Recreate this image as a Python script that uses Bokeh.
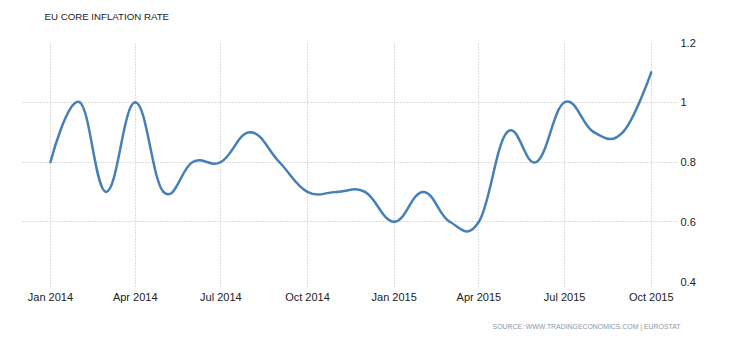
import pandas as pd
from bokeh.plotting import figure
from bokeh.models import ColumnDataSource, FixedTicker, CustomJSTickFormatter, Range1d, Title
from bokeh.embed import file_html
from bokeh.resources import INLINE

# ---- data ----
months = ["2014-01", "2014-02", "2014-03", "2014-04", "2014-05", "2014-06",
          "2014-07", "2014-08", "2014-09", "2014-10", "2014-11", "2014-12",
          "2015-01", "2015-02", "2015-03", "2015-04", "2015-05", "2015-06",
          "2015-07", "2015-08", "2015-09", "2015-10"]
core_inflation = [0.8, 1.0, 0.7, 1.0, 0.7, 0.8, 0.8, 0.9, 0.8, 0.7, 0.7, 0.7,
                  0.6, 0.7, 0.6, 0.6, 0.9, 0.8, 1.0, 0.9, 0.9, 1.1]
x_tick_months = ["2014-01", "2014-04", "2014-07", "2014-10",
                 "2015-01", "2015-04", "2015-07", "2015-10"]
x_tick_labels = ["Jan 2014", "Apr 2014", "Jul 2014", "Oct 2014",
                 "Jan 2015", "Apr 2015", "Jul 2015", "Oct 2015"]
y_ticks = [0.4, 0.6, 0.8, 1.0, 1.2]
y_tick_labels = ["0.4", "0.6", "0.8", "1", "1.2"]
title_text = "EU CORE INFLATION RATE"
source_text = "SOURCE: WWW.TRADINGECONOMICS.COM | EUROSTAT"


def to_ms(vals):
    return [float(t.value // 10**6) for t in pd.to_datetime(vals)]


xs = to_ms(months)
ys = list(core_inflation)
x_ticks = to_ms(x_tick_months)


# Highcharts-style spline control points (smoothing 1.5)
def spline_segments(xs, ys, smoothing=1.5):
    n = len(xs)
    denom = smoothing + 1
    left = [None] * n
    right = [None] * n
    for i in range(1, n - 1):
        lx = (smoothing * xs[i] + xs[i - 1]) / denom
        ly = (smoothing * ys[i] + ys[i - 1]) / denom
        rx = (smoothing * xs[i] + xs[i + 1]) / denom
        ry = (smoothing * ys[i] + ys[i + 1]) / denom
        corr = ((ry - ly) * (rx - xs[i])) / (rx - lx) + ys[i] - ry
        left[i] = (lx, ly + corr)
        right[i] = (rx, ry + corr)
    right[0] = (xs[0], ys[0])
    left[n - 1] = (xs[-1], ys[-1])
    seg = dict(x0=[], y0=[], x1=[], y1=[], cx0=[], cy0=[], cx1=[], cy1=[])
    for i in range(n - 1):
        seg["x0"].append(xs[i]); seg["y0"].append(ys[i])
        seg["x1"].append(xs[i + 1]); seg["y1"].append(ys[i + 1])
        seg["cx0"].append(right[i][0]); seg["cy0"].append(right[i][1])
        seg["cx1"].append(left[i + 1][0]); seg["cy1"].append(left[i + 1][1])
    return seg


src = ColumnDataSource(spline_segments(xs, ys))

day = 86400000.0
x_start = x_ticks[0] - 29.7 * day
x_end = x_ticks[-1] + 27.9 * day

p = figure(width=730, height=340, output_backend="svg", toolbar_location=None,
           x_range=Range1d(x_start, x_end), y_range=Range1d(0.4, 1.2),
           y_axis_location="right",
           min_border_left=22, min_border_right=53, min_border_top=42, min_border_bottom=59)
p.outline_line_color = None
p.background_fill_color = "white"
p.border_fill_color = "white"

p.bezier(x0="x0", y0="y0", x1="x1", y1="y1", cx0="cx0", cy0="cy0", cx1="cx1", cy1="cy1",
         source=src, line_color="#4780b6", line_width=2.5, line_cap="round")

# grids
for g in (p.xgrid, p.ygrid):
    g.grid_line_color = "#bbbbbb"
    g.grid_line_dash = "1 2"
    g.grid_line_width = 1
p.xgrid.ticker = FixedTicker(ticks=x_ticks)
p.ygrid.ticker = FixedTicker(ticks=y_ticks)

LOOKUP = """
let best = 0, bd = Infinity;
for (let i = 0; i < tvals.length; i++) { const d = Math.abs(tvals[i] - tick); if (d < bd) { bd = d; best = i; } }
return tlabels[best];
"""

# x axis
xa = p.xaxis[0]
xa.ticker = FixedTicker(ticks=x_ticks)
xa.formatter = CustomJSTickFormatter(args=dict(tvals=x_ticks, tlabels=x_tick_labels), code=LOOKUP)
xa.axis_line_color = None
xa.major_tick_line_color = "#bbbbbb"
xa.major_tick_line_dash = "1 2"
xa.major_tick_in = 0
xa.major_tick_out = 5
xa.minor_tick_line_color = None
xa.major_label_standoff = 4
xa.major_label_text_font = "Liberation Sans"
xa.major_label_text_font_size = "11px"
xa.major_label_text_color = "#222222"

# y axis
ya = p.yaxis[0]
ya.ticker = FixedTicker(ticks=y_ticks)
ya.formatter = CustomJSTickFormatter(args=dict(tvals=y_ticks, tlabels=y_tick_labels), code=LOOKUP)
ya.axis_line_color = None
ya.major_tick_line_color = None
ya.minor_tick_line_color = None
ya.major_tick_in = 0
ya.major_tick_out = 0
ya.major_label_standoff = 3
ya.major_label_text_font = "Liberation Sans"
ya.major_label_text_font_size = "11px"
ya.major_label_text_color = "#222222"

# title (with a spacer between it and the frame) and source
p.add_layout(Title(text=" ", text_font_size="1px", standoff=14), "above")
p.add_layout(Title(text=title_text, align="left", offset=22, standoff=8,
                   text_font="Liberation Sans", text_font_size="9.7px", text_font_style="normal",
                   text_color="#1a1a2a"), "above")
p.add_layout(Title(text=" ", text_font_size="1px", standoff=6), "below")
p.add_layout(Title(text=source_text, align="right", offset=-3, standoff=13,
                   text_font="Liberation Sans", text_font_size="6.9px", text_font_style="normal",
                   text_color="#8a96a3"), "below")

open("out.html", "w").write(file_html(p, INLINE))
